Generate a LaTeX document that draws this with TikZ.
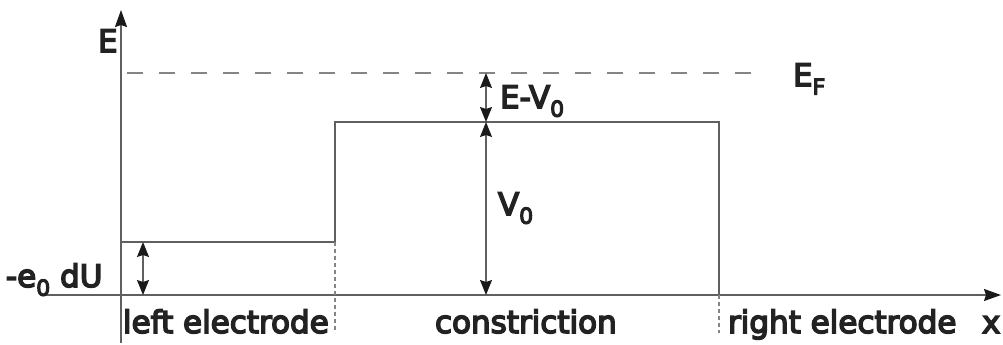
\documentclass[tikz,border=0pt]{standalone}
\usepackage{fontspec}
\setmainfont[FakeBold=5,AutoFakeBold=5]{DejaVu Sans}
\newfontfamily\heavyfont[FakeBold=5]{DejaVu Sans}
\usetikzlibrary{arrows.meta}
\definecolor{linegray}{HTML}{606060}
\definecolor{dashgray}{HTML}{858585}
\definecolor{tipcol}{HTML}{1A1A1A}
\definecolor{txt}{HTML}{222222}
\newcommand{\sbs}[1]{\raisebox{-0.28em}{\fontsize{22}{22}\selectfont\bfseries #1}}
\begin{document}
\begin{tikzpicture}[x=1pt,y=-1pt,
  lbl/.style={anchor=base west,inner sep=0pt,outer sep=0pt,text=txt,font=\fontsize{31}{36}\selectfont\bfseries},
  axis/.style={draw=linegray,line width=1.8pt,-{Stealth[length=17pt,width=12pt,inset=2pt,color=tipcol]}},
  prof/.style={draw=linegray,line width=1.5pt},
  fermi/.style={draw=dashgray,line width=2.4pt,dash pattern=on 16pt off 16pt},
  bound/.style={draw=dashgray,line width=1.2pt,dash pattern=on 4pt off 3pt},
  dim/.style={draw=linegray,line width=1.3pt,{Stealth[length=15pt,width=12pt,inset=2pt,color=tipcol]}-{Stealth[length=15pt,width=12pt,inset=2pt,color=tipcol]}}
]
\useasboundingbox (0,0) rectangle (1003,345);
% coordinates
\coordinate (ybot) at (121,343);
\coordinate (ytop) at (121,10);
\coordinate (xl) at (42,295);
\coordinate (xr) at (1001,295);
\coordinate (p0) at (121,242);
\coordinate (p1) at (335,242);
\coordinate (p2) at (335,122);
\coordinate (p3) at (719,122);
\coordinate (p4) at (719,295);
\coordinate (b1) at (335,333);
\coordinate (b2) at (719,333);
\coordinate (f0) at (127,73);
\coordinate (f1) at (757,73);
\coordinate (a1t) at (143,242);
\coordinate (a1b) at (143,295);
\coordinate (a2t) at (486,73);
\coordinate (a2m) at (486,122);
\coordinate (a2b) at (486,295);
% axes
\draw[axis] (ybot) -- (ytop);
\draw[axis] (xl) -- (xr);
% Fermi level
\draw[fermi] (f0) -- (f1);
% potential profile
\draw[prof] (p0) -- (p1) -- (p2) -- (p3) -- (p4);
% region boundaries
\draw[bound] (p1) -- (b1);
\draw[bound] (p4) -- (b2);
% dimension arrows
\draw[dim] (a1t) -- (a1b);
\draw[dim] (a2t) -- (a2m);
\draw[dim] (a2m) -- (a2b);
% labels
\node[lbl] (lE) at (98,52) {E};
\node[lbl] (lEF) at (793,86) {E\sbs{F}};
\node[lbl] (lEV) at (500,108) {E-V\sbs{0}};
\node[lbl] (lV) at (498,215) {V\sbs{0}};
\node[lbl] (ldU) at (6,287) {-e\sbs{0} dU};
\node[lbl] (lleft) at (123,333) {left electrode};
\node[lbl] (lcon) at (435,333) {constriction};
\node[lbl] (lright) at (728,333) {right electrode};
\node[lbl] (lx) at (982,333) {x};
\end{tikzpicture}
\end{document}
